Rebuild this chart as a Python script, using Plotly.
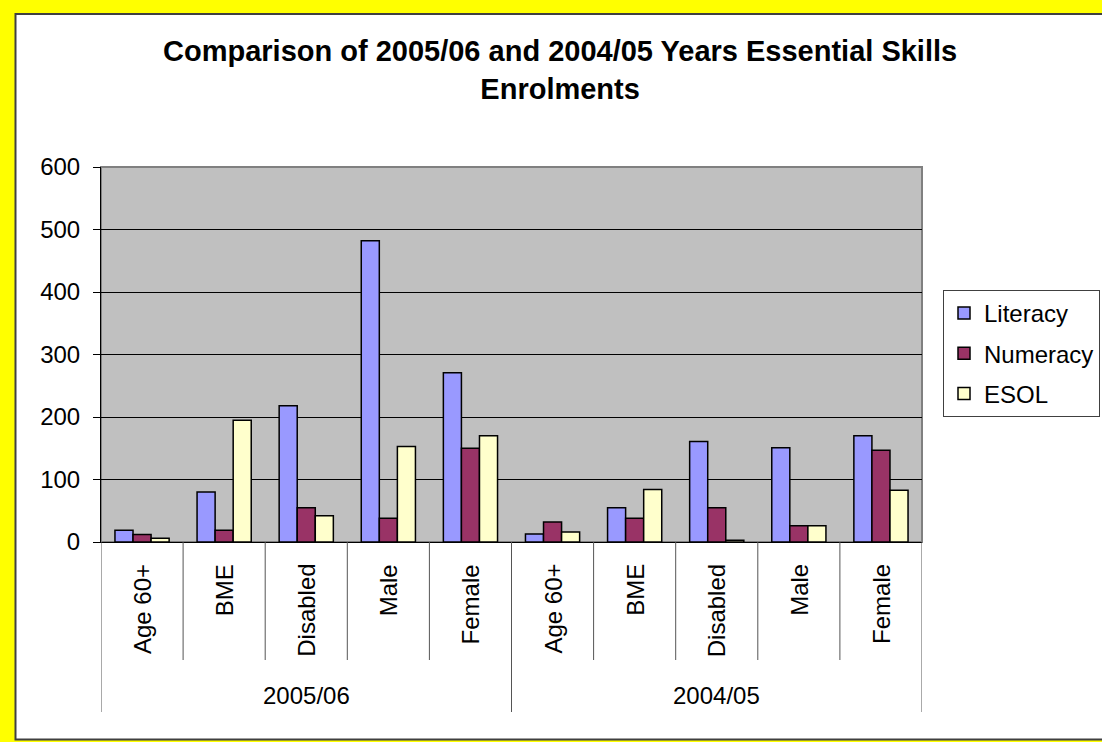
import plotly.graph_objects as go

# ---- data ----
years = ["2005/06", "2004/05"]
groups = ["Age 60+", "BME", "Disabled", "Male", "Female"]
categories = groups + groups
literacy = [19, 80, 218, 482, 271, 13, 55, 161, 151, 170]
numeracy = [12, 19, 55, 38, 150, 32, 38, 55, 26, 147]
esol = [6, 195, 42, 153, 170, 16, 84, 3, 26, 83]
series_names = ["Literacy", "Numeracy", "ESOL"]
series_values = [literacy, numeracy, esol]
y_ticks = [0, 100, 200, 300, 400, 500, 600]
title_text = "Comparison of 2005/06 and 2004/05 Years Essential Skills<br>Enrolments"

# ---- styling ----
colors = ["#9999FF", "#993366", "#FFFFCC"]
FONT = "Liberation Sans, Arial, sans-serif"

W, H = 1102, 742
L, R, T, B = 101, 922, 167, 542  # plot area in pixels


def px_x(px):
    return (px - L) / (R - L)


def px_y(py):
    return (B - py) / (B - T)


x_pos = list(range(len(categories)))

fig = go.Figure()
for name, vals, col in zip(series_names, series_values, colors):
    fig.add_trace(go.Bar(
        x=x_pos, y=vals, name=name, legendgroup=name,
        marker=dict(color=col, line=dict(color="black", width=1.5)),
    ))

shapes = []
# white chart area with dark frame (on yellow page)
shapes.append(dict(type="rect", xref="paper", yref="paper",
                   x0=px_x(15.5), x1=px_x(1115), y0=px_y(739.5), y1=px_y(14),
                   fillcolor="white", line=dict(color="#404040", width=2), layer="below"))
# gray plot area
shapes.append(dict(type="rect", xref="paper", yref="paper",
                   x0=0, x1=1, y0=0, y1=1,
                   fillcolor="#C0C0C0", line=dict(color="#808080", width=2), layer="below"))

n = len(categories)
per_group = len(groups)
for i in range(n + 1):
    xb = i - 0.5
    is_group_edge = (i % per_group == 0)
    shapes.append(dict(type="line", xref="x", yref="paper",
                       x0=xb, x1=xb, y0=0,
                       y1=px_y(712) if is_group_edge else px_y(660),
                       line=dict(color="#555555", width=1), layer="above"))

annotations = []
for i, c in enumerate(categories):
    annotations.append(dict(x=i, y=px_y(562), xref="x", yref="paper",
                            text=c, textangle=-90, showarrow=False,
                            xanchor="center", yanchor="top",
                            font=dict(family=FONT, size=24, color="black")))
for gi, yr in enumerate(years):
    annotations.append(dict(x=gi * per_group + (per_group - 1) / 2, y=px_y(695),
                            xref="x", yref="paper", text=yr, showarrow=False,
                            xanchor="center", yanchor="middle",
                            font=dict(family=FONT, size=24, color="black")))
annotations.append(dict(x=px_x(560), y=px_y(70), xref="paper", yref="paper",
                        text="<b>" + title_text.replace("<br>", "</b><br><b>") + "</b>",
                        showarrow=False, xanchor="center", yanchor="middle",
                        font=dict(family=FONT, size=29, color="black")))

fig.update_layout(
    width=W, height=H,
    paper_bgcolor="#FFFF00",
    plot_bgcolor="rgba(0,0,0,0)",
    margin=dict(l=L, r=W - R, t=T, b=H - B, autoexpand=False),
    barmode="group", bargap=0.34, bargroupgap=0,
    showlegend=True,
    legend=dict(x=px_x(943), y=px_y(290), xanchor="left", yanchor="top",
                bgcolor="white", bordercolor="#404040", borderwidth=1,
                font=dict(family=FONT, size=24, color="black"),
                traceorder="grouped", tracegroupgap=6, itemwidth=30),
    xaxis=dict(range=[-0.5, n - 0.5], showticklabels=False, showgrid=False,
               zeroline=False, showline=True, linecolor="black", linewidth=1,
               ticks=""),
    yaxis=dict(range=[0, 600], tickvals=y_ticks, ticks="outside", ticklen=7,
               tickcolor="black", showgrid=True, gridcolor="black", gridwidth=1,
               zeroline=False, showline=True, linecolor="black", linewidth=1,
               ticklabelstandoff=8,
               tickfont=dict(family=FONT, size=24, color="black")),
    shapes=shapes,
    annotations=annotations,
)

fig.write_html("out.html")
